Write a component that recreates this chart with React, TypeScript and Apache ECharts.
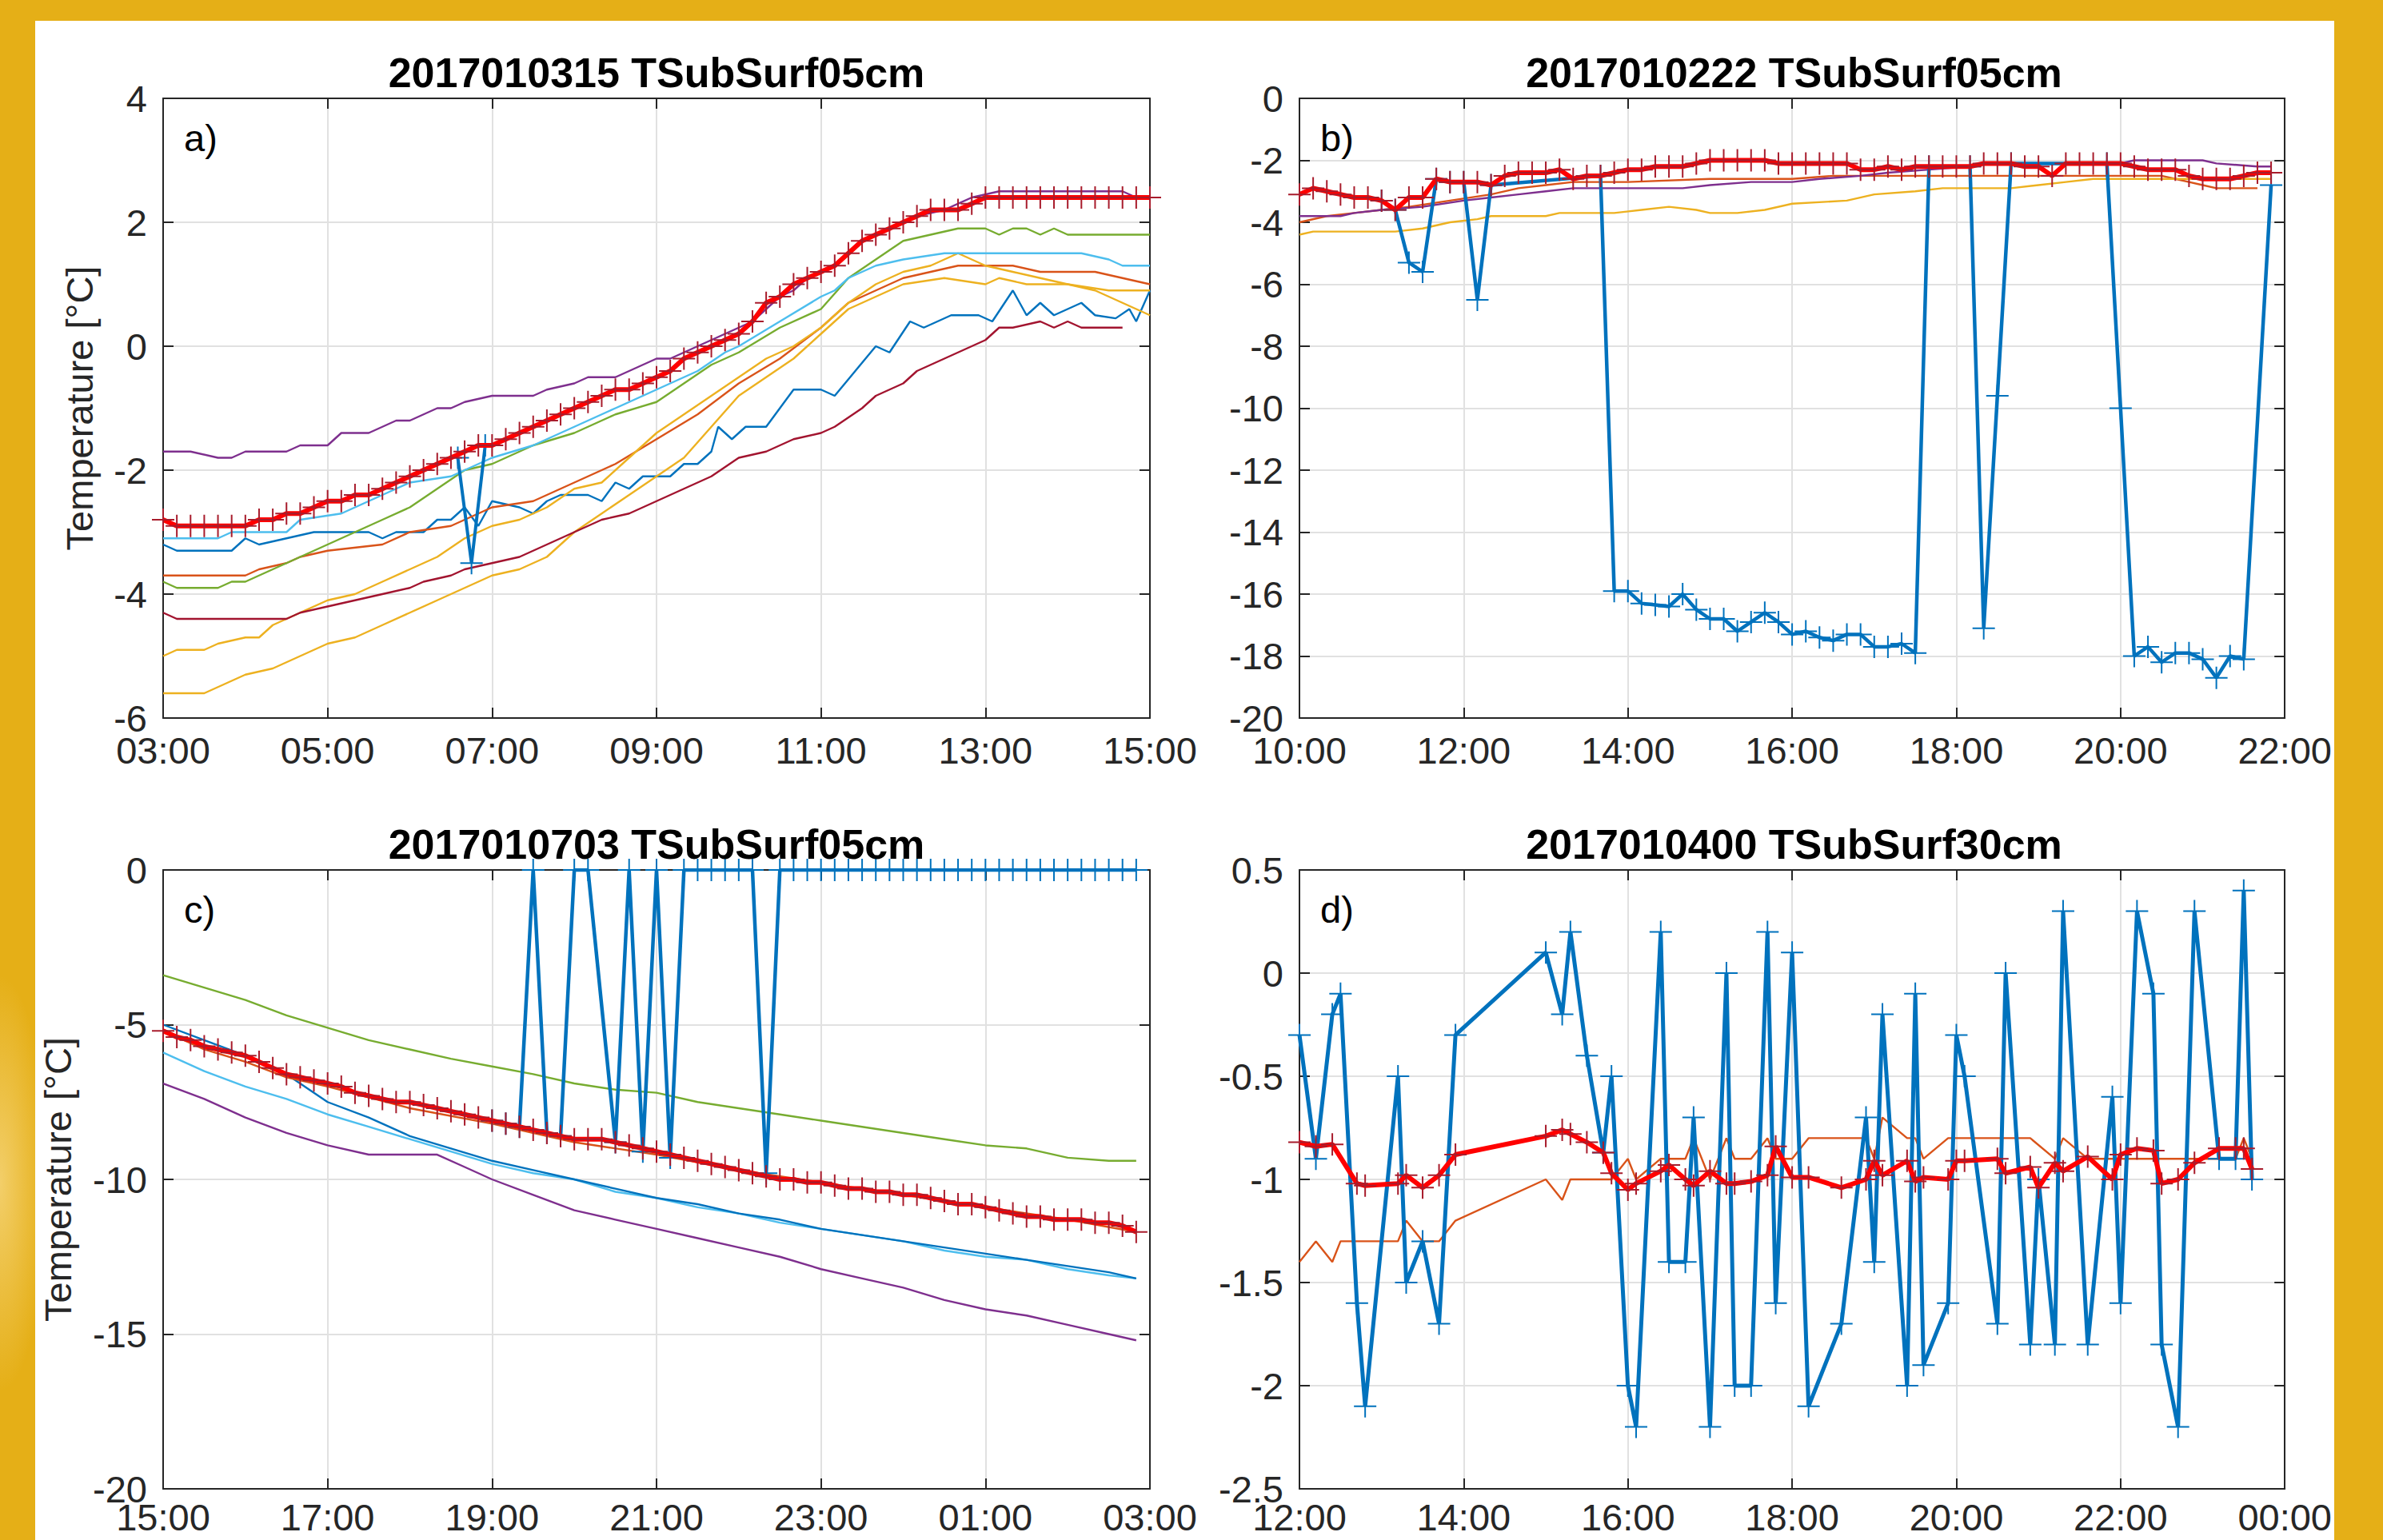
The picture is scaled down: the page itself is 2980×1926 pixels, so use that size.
import React, { useEffect, useRef } from 'react';
import * as echarts from 'echarts';

// ---------------- DATA ----------------
const titles = ['2017010315 TSubSurf05cm', '2017010222 TSubSurf05cm', '2017010703 TSubSurf05cm', '2017010400 TSubSurf30cm'];
const panelLetters = ['a)', 'b)', 'c)', 'd)'];
const startHours = [3, 10, 15, 12];
const xLabA = ['03:00', '05:00', '07:00', '09:00', '11:00', '13:00', '15:00'];
const xLabB = ['10:00', '12:00', '14:00', '16:00', '18:00', '20:00', '22:00'];
const xLabC = ['15:00', '17:00', '19:00', '21:00', '23:00', '01:00', '03:00'];
const xLabD = ['12:00', '14:00', '16:00', '18:00', '20:00', '22:00', '00:00'];
const yRanges = [[-6, 4, 2], [-20, 0, 2], [-20, 0, 5], [-2.5, 0.5, 0.5]];
const yAxisTitle = 'Temperature [°C]';

// Panel a (10-min red series from 03:00)
const aRed = [
  -2.8, -2.9, -2.9, -2.9, -2.9, -2.9, -2.9,
  -2.8, -2.8, -2.7, -2.7, -2.6,
  -2.5, -2.5, -2.4, -2.4, -2.3, -2.2,
  -2.1, -2.0, -1.9, -1.8, -1.7, -1.6,
  -1.6, -1.5, -1.4, -1.3, -1.2, -1.1,
  -1.0, -0.9, -0.8, -0.7, -0.7, -0.6,
  -0.5, -0.4, -0.2, -0.1, 0.0, 0.1,
  0.2, 0.4, 0.7, 0.8, 1.0, 1.1,
  1.2, 1.3, 1.5, 1.7, 1.8, 1.9,
  2.0, 2.1, 2.2, 2.2, 2.2, 2.3,
  2.4, 2.4, 2.4, 2.4, 2.4, 2.4,
  2.4, 2.4, 2.4, 2.4, 2.4, 2.4,
  2.4,
];
const aObs: [string, number][] = [['06:35', -1.8], ['06:45', -3.5], ['06:55', -1.6]];
const aBlue: [string, number][] = [
  ['03:00', -3.2], ['03:10', -3.3], ['03:50', -3.3], ['04:00', -3.1], ['04:10', -3.2], ['04:30', -3.1], ['04:50', -3.0],
  ['05:30', -3.0], ['05:40', -3.1], ['05:50', -3.0], ['06:10', -3.0], ['06:20', -2.8], ['06:30', -2.8], ['06:40', -2.6],
  ['06:50', -2.9], ['07:00', -2.5], ['07:20', -2.6], ['07:30', -2.7], ['07:40', -2.5], ['07:50', -2.4], ['08:10', -2.4],
  ['08:20', -2.5], ['08:30', -2.2], ['08:40', -2.3], ['08:50', -2.1], ['09:10', -2.1], ['09:20', -1.9], ['09:30', -1.9],
  ['09:40', -1.7], ['09:45', -1.3], ['09:55', -1.5], ['10:05', -1.3], ['10:20', -1.3], ['10:30', -1.0], ['10:40', -0.7],
  ['11:00', -0.7], ['11:10', -0.8], ['11:25', -0.4], ['11:40', 0.0], ['11:50', -0.1], ['12:05', 0.4], ['12:15', 0.3],
  ['12:35', 0.5], ['12:55', 0.5], ['13:05', 0.4], ['13:20', 0.9], ['13:30', 0.5], ['13:40', 0.7], ['13:50', 0.5],
  ['14:10', 0.7], ['14:20', 0.5], ['14:35', 0.45], ['14:45', 0.6], ['14:50', 0.4], ['15:00', 0.9],
];
const aOrange: [string, number][] = [
  ['03:00', -3.7], ['04:00', -3.7], ['04:10', -3.6], ['04:30', -3.5], ['04:40', -3.4], ['05:00', -3.3], ['05:40', -3.2],
  ['06:00', -3.0], ['06:30', -2.9], ['07:00', -2.6], ['07:30', -2.5], ['08:00', -2.2], ['08:30', -1.9], ['09:00', -1.5],
  ['09:30', -1.1], ['10:00', -0.6], ['10:30', -0.2], ['11:00', 0.3], ['11:20', 0.7], ['11:40', 0.9], ['12:00', 1.1],
  ['12:20', 1.2], ['12:40', 1.3], ['13:20', 1.3], ['13:40', 1.2], ['14:20', 1.2], ['14:40', 1.1], ['15:00', 1.0],
];
const aYellow1: [string, number][] = [
  ['03:00', -5.0], ['03:10', -4.9], ['03:30', -4.9], ['03:40', -4.8], ['04:00', -4.7], ['04:10', -4.7], ['04:20', -4.5],
  ['04:40', -4.3], ['05:00', -4.1], ['05:20', -4.0], ['05:40', -3.8], ['06:00', -3.6], ['06:20', -3.4], ['06:40', -3.1],
  ['07:00', -2.9], ['07:20', -2.8], ['07:40', -2.6], ['08:00', -2.3], ['08:20', -2.2], ['08:40', -1.8], ['09:00', -1.4],
  ['09:20', -1.1], ['09:40', -0.8], ['10:00', -0.5], ['10:20', -0.2], ['10:40', 0.0], ['11:00', 0.3], ['11:20', 0.7],
  ['11:40', 1.0], ['12:00', 1.2], ['12:20', 1.3], ['12:40', 1.5], ['13:00', 1.3], ['13:20', 1.2], ['13:40', 1.1],
  ['14:00', 1.0], ['14:20', 0.9], ['14:40', 0.7], ['15:00', 0.5],
];
const aYellow2: [string, number][] = [
  ['03:00', -5.6], ['03:30', -5.6], ['03:50', -5.4], ['04:00', -5.3], ['04:20', -5.2], ['04:40', -5.0], ['05:00', -4.8],
  ['05:20', -4.7], ['05:40', -4.5], ['06:00', -4.3], ['06:20', -4.1], ['06:40', -3.9], ['07:00', -3.7], ['07:20', -3.6],
  ['07:40', -3.4], ['08:00', -3.0], ['08:20', -2.7], ['08:40', -2.4], ['09:00', -2.1], ['09:20', -1.8], ['09:40', -1.3],
  ['10:00', -0.8], ['10:20', -0.5], ['10:40', -0.2], ['11:00', 0.2], ['11:20', 0.6], ['11:40', 0.8], ['12:00', 1.0],
  ['12:30', 1.1], ['13:00', 1.0], ['13:10', 1.1], ['13:30', 1.0], ['14:00', 1.0], ['14:30', 0.9], ['15:00', 0.9],
];
const aPurple: [string, number][] = [
  ['03:00', -1.7], ['03:20', -1.7], ['03:40', -1.8], ['03:50', -1.8], ['04:00', -1.7], ['04:30', -1.7], ['04:40', -1.6],
  ['05:00', -1.6], ['05:10', -1.4], ['05:30', -1.4], ['05:50', -1.2], ['06:00', -1.2], ['06:10', -1.1], ['06:20', -1.0],
  ['06:30', -1.0], ['06:40', -0.9], ['07:00', -0.8], ['07:30', -0.8], ['07:40', -0.7], ['08:00', -0.6], ['08:10', -0.5],
  ['08:30', -0.5], ['08:40', -0.4], ['09:00', -0.2], ['09:10', -0.2], ['09:20', -0.1], ['09:30', 0.0], ['09:40', 0.1],
  ['09:50', 0.2], ['10:00', 0.3], ['10:10', 0.4], ['10:20', 0.6], ['10:30', 0.8], ['10:40', 0.9], ['10:50', 1.1],
  ['11:00', 1.2], ['11:10', 1.3], ['11:20', 1.5], ['11:30', 1.7], ['11:40', 1.8], ['11:50', 1.9], ['12:00', 2.0],
  ['12:10', 2.1], ['12:30', 2.2], ['12:50', 2.4], ['13:10', 2.5], ['14:40', 2.5], ['14:50', 2.4], ['15:00', 2.4],
];
const aGreen: [string, number][] = [
  ['03:00', -3.8], ['03:10', -3.9], ['03:40', -3.9], ['03:50', -3.8], ['04:00', -3.8], ['04:20', -3.6], ['04:40', -3.4],
  ['05:00', -3.2], ['05:20', -3.0], ['05:40', -2.8], ['06:00', -2.6], ['06:20', -2.3], ['06:40', -2.0], ['07:00', -1.9],
  ['07:30', -1.6], ['08:00', -1.4], ['08:30', -1.1], ['09:00', -0.9], ['09:20', -0.6], ['09:40', -0.3], ['10:00', -0.1],
  ['10:30', 0.3], ['11:00', 0.6], ['11:20', 1.1], ['11:40', 1.4], ['12:00', 1.7], ['12:20', 1.8], ['12:40', 1.9],
  ['13:00', 1.9], ['13:10', 1.8], ['13:20', 1.9], ['13:30', 1.9], ['13:40', 1.8], ['13:50', 1.9], ['14:00', 1.8], ['15:00', 1.8],
];
const aLightBlue: [string, number][] = [
  ['03:00', -3.1], ['03:40', -3.1], ['03:50', -3.0], ['04:30', -3.0], ['04:40', -2.8], ['05:10', -2.7], ['05:30', -2.5],
  ['05:50', -2.3], ['06:00', -2.2], ['06:30', -2.1], ['06:40', -2.0], ['07:00', -1.8], ['07:30', -1.6], ['08:00', -1.3],
  ['08:30', -1.0], ['09:00', -0.7], ['09:10', -0.6], ['09:30', -0.4], ['09:50', -0.1], ['10:00', 0.0], ['10:30', 0.4],
  ['11:00', 0.8], ['11:10', 0.9], ['11:20', 1.1], ['11:40', 1.3], ['12:00', 1.4], ['12:30', 1.5], ['14:10', 1.5],
  ['14:30', 1.4], ['14:40', 1.3], ['15:00', 1.3],
];
const aDarkRed: [string, number][] = [
  ['03:00', -4.3], ['03:10', -4.4], ['04:30', -4.4], ['04:40', -4.3], ['05:00', -4.2], ['05:20', -4.1], ['05:40', -4.0],
  ['06:00', -3.9], ['06:10', -3.8], ['06:30', -3.7], ['06:40', -3.6], ['07:00', -3.5], ['07:20', -3.4], ['07:40', -3.2],
  ['08:00', -3.0], ['08:20', -2.8], ['08:40', -2.7], ['09:00', -2.5], ['09:20', -2.3], ['09:40', -2.1], ['10:00', -1.8],
  ['10:20', -1.7], ['10:40', -1.5], ['11:00', -1.4], ['11:10', -1.3], ['11:30', -1.0], ['11:40', -0.8], ['12:00', -0.6],
  ['12:10', -0.4], ['12:20', -0.3], ['12:30', -0.2], ['12:40', -0.1], ['13:00', 0.1], ['13:10', 0.3], ['13:20', 0.3],
  ['13:40', 0.4], ['13:50', 0.3], ['14:00', 0.4], ['14:10', 0.3], ['14:40', 0.3],
];

// Panel b (10-min red series from 10:00)
const bRed = [
  -3.1, -2.9, -3.0, -3.1, -3.2, -3.2,
  -3.3, -3.6, -3.2, -3.2, -2.6, -2.7,
  -2.7, -2.7, -2.8, -2.5, -2.4, -2.4,
  -2.4, -2.3, -2.6, -2.5, -2.5, -2.4,
  -2.3, -2.3, -2.2, -2.2, -2.2, -2.1,
  -2.0, -2.0, -2.0, -2.0, -2.0, -2.1,
  -2.1, -2.1, -2.1, -2.1, -2.1, -2.3,
  -2.3, -2.2, -2.3, -2.2, -2.2, -2.2,
  -2.2, -2.2, -2.1, -2.1, -2.1, -2.2,
  -2.2, -2.5, -2.1, -2.1, -2.1, -2.1,
  -2.1, -2.2, -2.3, -2.3, -2.3, -2.5,
  -2.6, -2.6, -2.6, -2.5, -2.4, -2.4,
];
const bObs: [string, number][] = [
  ['11:00', -3.3], ['11:10', -3.6], ['11:20', -5.3], ['11:30', -5.6], ['11:40', -2.6], ['11:50', -2.7], ['12:00', -2.7],
  ['12:10', -6.5], ['12:20', -2.8], ['13:40', -2.5], ['13:50', -15.9], ['14:00', -15.9], ['14:10', -16.3], ['14:20', -16.35],
  ['14:30', -16.4], ['14:40', -16.0], ['14:50', -16.5], ['15:00', -16.8], ['15:10', -16.8], ['15:20', -17.2], ['15:30', -16.9],
  ['15:40', -16.6], ['15:50', -16.9], ['16:00', -17.3], ['16:10', -17.2], ['16:20', -17.4], ['16:30', -17.5], ['16:40', -17.3],
  ['16:50', -17.3], ['17:00', -17.7], ['17:10', -17.7], ['17:20', -17.6], ['17:30', -17.9], ['17:40', -2.2], ['18:10', -2.2],
  ['18:20', -17.1], ['18:30', -9.6], ['18:40', -2.1], ['19:50', -2.1], ['20:00', -10.0], ['20:10', -18.0], ['20:20', -17.7],
  ['20:30', -18.2], ['20:40', -17.9], ['20:50', -17.9], ['21:00', -18.1], ['21:10', -18.7], ['21:20', -18.0], ['21:30', -18.1],
  ['21:50', -2.8],
];
const bOrange: [string, number][] = [
  ['10:00', -4.0], ['10:20', -3.8], ['10:40', -3.7], ['11:00', -3.6], ['11:20', -3.5], ['11:50', -3.3], ['12:20', -3.1],
  ['12:40', -2.9], ['13:00', -2.8], ['13:20', -2.7], ['14:00', -2.7], ['15:00', -2.6], ['16:00', -2.6], ['16:30', -2.5],
  ['20:30', -2.5], ['20:40', -2.6], ['20:50', -2.7], ['21:00', -2.8], ['21:10', -2.9], ['21:40', -2.9],
];
const bPurple: [string, number][] = [
  ['10:00', -3.8], ['10:30', -3.8], ['10:40', -3.7], ['11:00', -3.6], ['11:30', -3.5], ['12:00', -3.3], ['12:20', -3.2],
  ['12:40', -3.1], ['13:00', -3.0], ['13:20', -2.9], ['14:40', -2.9], ['15:00', -2.8], ['15:30', -2.7], ['16:00', -2.7],
  ['16:20', -2.6], ['16:50', -2.5], ['17:10', -2.4], ['17:40', -2.3], ['18:10', -2.2], ['18:20', -2.1], ['20:00', -2.1],
  ['20:10', -2.0], ['21:00', -2.0], ['21:10', -2.1], ['21:40', -2.2], ['21:50', -2.2],
];
const bYellow: [string, number][] = [
  ['10:00', -4.4], ['10:10', -4.3], ['11:10', -4.3], ['11:30', -4.2], ['11:50', -4.0], ['12:10', -3.9], ['12:20', -3.8],
  ['13:00', -3.8], ['13:10', -3.7], ['13:50', -3.7], ['14:10', -3.6], ['14:30', -3.5], ['14:50', -3.6], ['15:00', -3.7],
  ['15:20', -3.7], ['15:40', -3.6], ['16:00', -3.4], ['16:40', -3.3], ['17:00', -3.1], ['17:30', -3.0], ['17:50', -2.9],
  ['18:40', -2.9], ['19:00', -2.8], ['19:20', -2.7], ['19:40', -2.6], ['21:50', -2.6],
];

// Panel c (10-min red series from 15:00)
const cRed = [
  -5.2, -5.4, -5.5, -5.7, -5.8, -5.9,
  -6.0, -6.2, -6.4, -6.6, -6.7, -6.8,
  -6.9, -7.0, -7.2, -7.3, -7.4, -7.5,
  -7.5, -7.6, -7.7, -7.8, -7.9, -8.0,
  -8.1, -8.2, -8.3, -8.4, -8.5, -8.6,
  -8.7, -8.7, -8.7, -8.8, -8.9, -9.0,
  -9.1, -9.2, -9.3, -9.4, -9.5, -9.6,
  -9.7, -9.8, -9.9, -10.0, -10.0, -10.1,
  -10.1, -10.2, -10.3, -10.3, -10.4, -10.4,
  -10.5, -10.5, -10.6, -10.7, -10.8, -10.8,
  -10.9, -11.0, -11.1, -11.2, -11.2, -11.3,
  -11.3, -11.3, -11.4, -11.4, -11.5, -11.7,
];
const cObs: [string, number][] = [
  ['19:00', -8.1], ['19:10', -8.2], ['19:20', -8.3], ['19:30', 0], ['19:40', -8.5], ['19:50', -8.6], ['20:00', 0],
  ['20:10', 0], ['20:30', -8.8], ['20:40', 0], ['20:50', -9.1], ['21:00', 0], ['21:10', -9.3], ['21:20', 0],
  ['21:30', 0], ['21:40', 0], ['21:50', 0], ['22:00', 0], ['22:10', 0], ['22:20', -9.8], ['22:30', 0], ['22:40', 0],
  ['22:50', 0], ['23:00', 0], ['23:10', 0], ['23:20', 0], ['23:30', 0], ['23:40', 0], ['23:50', 0], ['00:00', 0],
  ['00:10', 0], ['00:20', 0], ['00:30', 0], ['00:40', 0], ['00:50', 0], ['01:00', 0], ['01:10', 0], ['01:20', 0],
  ['01:30', 0], ['01:40', 0], ['01:50', 0], ['02:00', 0], ['02:10', 0], ['02:20', 0], ['02:30', 0], ['02:40', 0], ['02:50', 0],
];
const cOrange: [string, number][] = [
  ['15:00', -5.2], ['15:30', -5.8], ['16:00', -6.2], ['16:30', -6.7], ['17:00', -7.0], ['18:00', -7.7], ['19:00', -8.2],
  ['20:00', -8.8], ['21:00', -9.2], ['22:00', -9.7], ['23:00', -10.1], ['00:00', -10.5], ['01:00', -10.9], ['02:00', -11.3], ['02:50', -11.7],
];
const cBlue: [string, number][] = [
  ['15:00', -5.0], ['15:30', -5.5], ['16:00', -6.0], ['16:30', -6.6], ['17:00', -7.5], ['17:30', -8.0], ['18:00', -8.6],
  ['18:30', -9.0], ['19:00', -9.4], ['19:30', -9.7], ['20:00', -10.0], ['20:30', -10.3], ['21:00', -10.6], ['21:30', -10.8],
  ['22:00', -11.1], ['22:30', -11.3], ['23:00', -11.6], ['23:30', -11.8], ['00:00', -12.0], ['00:30', -12.2], ['01:00', -12.4],
  ['01:30', -12.6], ['02:00', -12.8], ['02:30', -13.0], ['02:50', -13.2],
];
const cLightBlue: [string, number][] = [
  ['15:00', -5.9], ['15:30', -6.5], ['16:00', -7.0], ['16:30', -7.4], ['17:00', -7.9], ['17:30', -8.3], ['18:00', -8.7],
  ['18:30', -9.1], ['19:00', -9.5], ['19:30', -9.8], ['20:00', -10.0], ['20:30', -10.4], ['21:00', -10.6], ['21:30', -10.9],
  ['22:00', -11.1], ['22:30', -11.4], ['23:00', -11.6], ['23:30', -11.8], ['00:00', -12.0], ['00:30', -12.3], ['01:00', -12.5],
  ['01:30', -12.6], ['02:00', -12.9], ['02:30', -13.1], ['02:50', -13.2],
];
const cPurple: [string, number][] = [
  ['15:00', -6.9], ['15:30', -7.4], ['16:00', -8.0], ['16:30', -8.5], ['17:00', -8.9], ['17:30', -9.2], ['18:20', -9.2],
  ['18:40', -9.6], ['19:00', -10.0], ['19:30', -10.5], ['20:00', -11.0], ['20:30', -11.3], ['21:00', -11.6], ['21:30', -11.9],
  ['22:00', -12.2], ['22:30', -12.5], ['23:00', -12.9], ['23:30', -13.2], ['00:00', -13.5], ['00:30', -13.9], ['01:00', -14.2],
  ['01:30', -14.4], ['02:00', -14.7], ['02:30', -15.0], ['02:50', -15.2],
];
const cGreen: [string, number][] = [
  ['15:00', -3.4], ['15:30', -3.8], ['16:00', -4.2], ['16:30', -4.7], ['17:00', -5.1], ['17:30', -5.5], ['18:00', -5.8],
  ['18:30', -6.1], ['19:00', -6.35], ['19:30', -6.6], ['20:00', -6.9], ['20:30', -7.1], ['21:00', -7.2], ['21:30', -7.5],
  ['22:00', -7.7], ['22:30', -7.9], ['23:00', -8.1], ['23:30', -8.3], ['00:00', -8.5], ['00:30', -8.7], ['01:00', -8.9],
  ['01:30', -9.0], ['02:00', -9.3], ['02:30', -9.4], ['02:50', -9.4],
];

// Panel d
const dObs: [string, number][] = [
  ['12:00', -0.3], ['12:12', -0.9], ['12:24', -0.2], ['12:30', -0.1], ['12:42', -1.6], ['12:48', -2.1], ['13:12', -0.5],
  ['13:18', -1.5], ['13:30', -1.3], ['13:42', -1.7], ['13:54', -0.3], ['15:00', 0.1], ['15:12', -0.2], ['15:18', 0.2],
  ['15:30', -0.4], ['15:42', -0.87], ['15:48', -0.5], ['16:00', -2.0], ['16:06', -2.2], ['16:24', 0.2], ['16:30', -1.4],
  ['16:42', -1.4], ['16:48', -0.7], ['17:00', -2.2], ['17:12', 0.0], ['17:18', -2.0], ['17:30', -2.0], ['17:42', 0.2],
  ['17:48', -1.6], ['18:00', 0.1], ['18:12', -2.1], ['18:36', -1.7], ['18:54', -0.7], ['19:00', -1.4], ['19:06', -0.2],
  ['19:24', -2.0], ['19:30', -0.1], ['19:36', -1.9], ['19:54', -1.6], ['20:00', -0.3], ['20:06', -0.5], ['20:30', -1.7],
  ['20:36', 0.0], ['20:54', -1.8], ['21:00', -1.0], ['21:12', -1.8], ['21:18', 0.3], ['21:36', -1.8], ['21:54', -0.6],
  ['22:00', -1.6], ['22:12', 0.3], ['22:24', -0.1], ['22:30', -1.8], ['22:42', -2.2], ['22:54', 0.3], ['23:12', -0.9],
  ['23:24', -0.9], ['23:30', 0.4], ['23:36', -1.0],
];
const dRed: [string, number][] = [
  ['12:00', -0.82], ['12:12', -0.84], ['12:24', -0.83], ['12:42', -1.02], ['12:48', -1.03], ['13:12', -1.02], ['13:18', -0.98],
  ['13:30', -1.04], ['13:42', -0.98], ['13:54', -0.88], ['15:00', -0.79], ['15:12', -0.76], ['15:18', -0.78], ['15:30', -0.82],
  ['15:42', -0.87], ['15:48', -0.97], ['16:00', -1.05], ['16:06', -1.02], ['16:24', -0.96], ['16:30', -0.93], ['16:42', -1.0],
  ['16:48', -1.03], ['17:00', -0.96], ['17:12', -1.02], ['17:18', -1.02], ['17:30', -1.01], ['17:42', -0.98], ['17:48', -0.84],
  ['18:00', -0.99], ['18:12', -0.99], ['18:36', -1.04], ['18:54', -1.0], ['19:00', -0.91], ['19:06', -0.98], ['19:24', -0.91],
  ['19:30', -1.01], ['19:36', -0.99], ['19:54', -1.0], ['20:00', -0.91], ['20:06', -0.91], ['20:30', -0.9], ['20:36', -0.97],
  ['20:54', -0.94], ['21:00', -1.04], ['21:12', -0.92], ['21:18', -0.96], ['21:36', -0.89], ['21:54', -1.0], ['22:00', -0.88],
  ['22:12', -0.85], ['22:24', -0.86], ['22:30', -1.02], ['22:42', -1.0], ['22:54', -0.92], ['23:12', -0.85], ['23:24', -0.85],
  ['23:30', -0.85], ['23:36', -0.95],
];
const dOrange: [string, number][] = [
  ['12:00', -1.4], ['12:12', -1.3], ['12:24', -1.4], ['12:30', -1.3], ['13:12', -1.3], ['13:18', -1.2], ['13:30', -1.3],
  ['13:42', -1.3], ['13:54', -1.2], ['15:00', -1.0], ['15:12', -1.1], ['15:18', -1.0], ['15:48', -1.0], ['16:00', -0.9],
  ['16:06', -1.0], ['16:24', -0.9], ['16:42', -0.9], ['16:48', -0.8], ['17:00', -1.0], ['17:12', -0.8], ['17:18', -0.9],
  ['17:30', -0.9], ['17:42', -0.8], ['17:48', -0.9], ['18:00', -0.9], ['18:12', -0.8], ['18:54', -0.8], ['19:00', -0.9],
  ['19:06', -0.7], ['19:24', -0.8], ['19:30', -0.8], ['19:36', -0.9], ['19:54', -0.8], ['20:54', -0.8], ['21:12', -0.9],
  ['21:18', -0.8], ['21:36', -0.9], ['23:24', -0.9], ['23:30', -0.8], ['23:36', -0.9],
];

// ---------------- STYLE ----------------
const FONT = '"Liberation Sans", Arial, Helvetica, sans-serif';
const INK = '#262626';
const COL = {
  blue: '#0072BD', orange: '#D95319', yellow: '#EDB120', purple: '#7E2F8E',
  green: '#77AC30', lightBlue: '#4DBEEE', darkRed: '#A2142F', red: '#FF0000', redMark: '#A81C2C',
};
const PLUS = 'path://M10,0 L10,20 M0,10 L20,10';
const GRIDS = [
  { left: 160, top: 97, width: 1234, height: 775 },
  { left: 1581, top: 97, width: 1237, height: 775 },
  { left: 160, top: 1062, width: 1234, height: 774 },
  { left: 1581, top: 1062, width: 1237, height: 774 },
];
const X_LABEL_MARGIN = [22, 22, 17, 17];

function toHours(t: string, start: number): number {
  const [h, m] = t.split(':').map(Number);
  let v = h + m / 60 - start;
  if (v < 0) v += 24;
  return v;
}
const pairs = (arr: [string, number][], start: number) => arr.map(([t, v]) => [toHours(t, start), v]);
const tenMin = (arr: number[]) => arr.map((v, i) => [i / 6, v]);

function thin(gi: number, data: number[][], color: string, width = 2.4) {
  return {
    type: 'line', xAxisIndex: gi * 2, yAxisIndex: gi * 2, data, symbol: 'none', silent: true,
    lineStyle: { color, width }, z: 2, animation: false,
  };
}
function marked(gi: number, data: number[][], color: string, width: number, markColor: string, z: number) {
  return {
    type: 'line', xAxisIndex: gi * 2, yAxisIndex: gi * 2, data, symbol: PLUS, symbolSize: 28,
    showSymbol: true, showAllSymbol: true, silent: true, z, animation: false,
    lineStyle: { color, width },
    itemStyle: { color: 'rgba(0,0,0,0)', borderColor: markColor, borderWidth: 2 },
  };
}

function buildOption() {
  const xLabs = [xLabA, xLabB, xLabC, xLabD];
  const xAxes: any[] = [];
  const yAxes: any[] = [];
  const tick = { show: true, inside: true, length: 13, lineStyle: { color: INK, width: 2 } };
  const line = { show: true, onZero: false, lineStyle: { color: INK, width: 2 } };
  GRIDS.forEach((_, i) => {
    const labs = xLabs[i];
    xAxes.push({
      gridIndex: i, type: 'value', min: 0, max: 12, interval: 2, position: 'bottom',
      axisLine: line, axisTick: tick,
      axisLabel: {
        fontSize: 47, lineHeight: 36, color: INK, fontFamily: FONT, margin: X_LABEL_MARGIN[i],
        formatter: (v: number) => labs[Math.round(v / 2)] ?? '',
      },
      splitLine: { show: true, lineStyle: { color: '#E1E1E1', width: 2 } },
    });
    xAxes.push({
      gridIndex: i, type: 'value', min: 0, max: 12, interval: 2, position: 'top',
      axisLine: line, axisTick: tick, axisLabel: { show: false }, splitLine: { show: false },
    });
    const [mn, mx, iv] = yRanges[i];
    yAxes.push({
      gridIndex: i, type: 'value', min: mn, max: mx, interval: iv, position: 'left',
      axisLine: line, axisTick: tick,
      axisLabel: { fontSize: 47, lineHeight: 32, color: INK, fontFamily: FONT, margin: 20 },
      splitLine: { show: true, lineStyle: { color: '#E1E1E1', width: 2 } },
    });
    yAxes.push({
      gridIndex: i, type: 'value', min: mn, max: mx, interval: iv, position: 'right',
      axisLine: line, axisTick: tick, axisLabel: { show: false }, splitLine: { show: false },
    });
  });

  const [sa, sb, sc, sd] = startHours;
  const series: any[] = [
    // a
    thin(0, pairs(aBlue, sa), COL.blue),
    thin(0, pairs(aOrange, sa), COL.orange),
    thin(0, pairs(aYellow1, sa), COL.yellow),
    thin(0, pairs(aYellow2, sa), COL.yellow),
    thin(0, pairs(aPurple, sa), COL.purple),
    thin(0, pairs(aGreen, sa), COL.green),
    thin(0, pairs(aLightBlue, sa), COL.lightBlue),
    thin(0, pairs(aDarkRed, sa), COL.darkRed),
    marked(0, pairs(aObs, sa), COL.blue, 4, COL.blue, 3),
    marked(0, tenMin(aRed), COL.red, 6, COL.redMark, 4),
    // b
    thin(1, pairs(bOrange, sb), COL.orange),
    thin(1, pairs(bPurple, sb), COL.purple),
    thin(1, pairs(bYellow, sb), COL.yellow),
    marked(1, pairs(bObs, sb), COL.blue, 4.5, COL.blue, 3),
    marked(1, tenMin(bRed), COL.red, 6, COL.redMark, 4),
    // c
    thin(2, pairs(cGreen, sc), COL.green),
    thin(2, pairs(cPurple, sc), COL.purple),
    thin(2, pairs(cLightBlue, sc), COL.lightBlue),
    thin(2, pairs(cBlue, sc), COL.blue),
    thin(2, pairs(cOrange, sc), COL.orange),
    marked(2, pairs(cObs, sc), COL.blue, 4.5, COL.blue, 3),
    marked(2, tenMin(cRed), COL.red, 6, COL.redMark, 4),
    // d
    thin(3, pairs(dOrange, sd), COL.orange),
    marked(3, pairs(dObs, sd), COL.blue, 5, COL.blue, 3),
    marked(3, pairs(dRed, sd), COL.red, 6, COL.redMark, 4),
  ];

  const graphic: any[] = [];
  GRIDS.forEach((g, i) => {
    graphic.push({
      type: 'text', x: g.left + g.width / 2, y: g.top - 32, z: 100,
      style: {
        text: titles[i], fill: '#000', font: `bold 52px ${FONT}`,
        textAlign: 'center', align: 'center', textVerticalAlign: 'middle', verticalAlign: 'middle',
      },
    });
    graphic.push({
      type: 'text', x: g.left + 26, y: g.top + 49, z: 100,
      style: {
        text: panelLetters[i], fill: '#000', font: `47px ${FONT}`,
        textAlign: 'left', align: 'left', textVerticalAlign: 'middle', verticalAlign: 'middle',
      },
    });
  });
  [[55, GRIDS[0]], [28, GRIDS[2]]].forEach(([x, g]: any) => {
    graphic.push({
      type: 'text', x, y: g.top + g.height / 2, rotation: Math.PI / 2, z: 100,
      style: {
        text: yAxisTitle, fill: INK, font: `47px ${FONT}`,
        textAlign: 'center', align: 'center', textVerticalAlign: 'middle', verticalAlign: 'middle',
      },
    });
  });

  return {
    animation: false,
    backgroundColor: 'transparent',
    grid: GRIDS.map((g) => ({ ...g, containLabel: false })),
    xAxis: xAxes,
    yAxis: yAxes,
    series,
    graphic,
  };
}

function Chart() {
  const ref = useRef<HTMLDivElement>(null);
  useEffect(() => {
    if (!ref.current) return;
    const chart = echarts.init(ref.current, null, { renderer: 'svg' });
    chart.setOption(buildOption() as any);
    return () => chart.dispose();
  }, []);
  return <div ref={ref} style={{ position: 'absolute', left: 44, top: 26, width: 2875, height: 1900, background: '#FFFFFF' }} />;
}

export default function App() {
  return (
    <div style={{ position: 'absolute', left: 0, top: 0, width: 2980, height: 1926, background: '#E5AF17', overflow: 'hidden' }}>
      <div
        style={{
          position: 'absolute', left: 0, top: 1200, width: 44, height: 560,
          background: 'radial-gradient(ellipse 60px 260px at 0px 280px, rgba(245,212,120,0.85), rgba(229,175,23,0))',
        }}
      />
      <Chart />
    </div>
  );
}
